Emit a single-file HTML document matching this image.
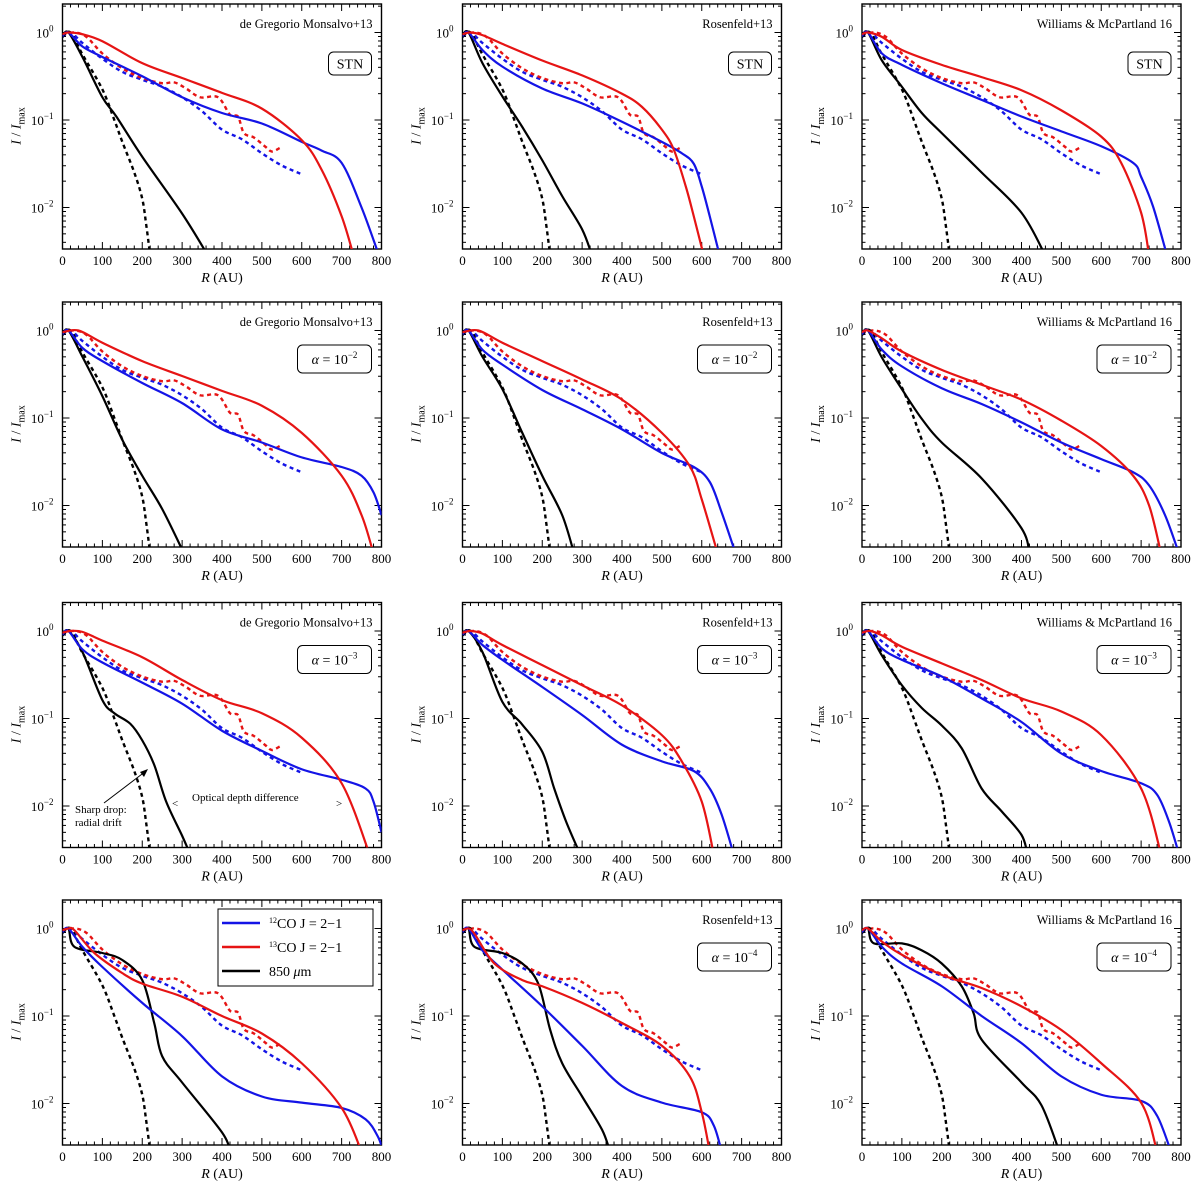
<!DOCTYPE html>
<html>
<head>
<meta charset="utf-8">
<style>
html,body{margin:0;padding:0;background:#fff;}
svg{display:block;font-family:"Liberation Serif",serif;}
</style>
</head>
<body>
<svg id="chart" width="1200" height="1196" viewBox="0 0 1200 1196" xmlns="http://www.w3.org/2000/svg"></svg>
<script>
// ---- shared observed profiles (R in AU, log10 I/Imax) ----
const obsBlueR = [0,20,50,100,150,200,250,300,350,400,450,500,550,600];
const obsBlueL = [-0.05,0,-0.12,-0.3,-0.45,-0.54,-0.62,-0.74,-0.9,-1.11,-1.22,-1.38,-1.52,-1.62];
const obsRedR = [0,30,60,100,150,200,250,280,310,345,390,420,440,455,480,510,525,545];
const obsRedL = [-0.02,0,-0.05,-0.24,-0.41,-0.52,-0.58,-0.57,-0.64,-0.74,-0.74,-0.94,-0.96,-1.15,-1.2,-1.31,-1.36,-1.32];
const obsBlackR = [0,20,50,100,130,150,180,200,210,220];
const obsBlackL = [-0.05,0,-0.25,-0.65,-1.0,-1.25,-1.6,-1.9,-2.2,-2.55];

// ---- axis ticks ----
const xTicks = [0,100,200,300,400,500,600,700,800];
const yTickExps = [0,-1,-2];
const sources = ["de Gregorio Monsalvo+13","Rosenfeld+13","Williams & McPartland 16"];
const models = ["STN","\u03b1 = 10\u207b\u00b2","\u03b1 = 10\u207b\u00b3","\u03b1 = 10\u207b\u2074"];

// ---- model profiles per panel (row, col) ----
const p11_blueR=[0,15,50,100,200,300,400,500,600,650,700,750,790];
const p11_blueL=[-0.04,0,-0.16,-0.28,-0.5,-0.74,-0.92,-1.04,-1.25,-1.35,-1.49,-2.0,-2.5];
const p11_redR=[0,15,50,100,200,300,400,500,600,650,700,730];
const p11_redL=[-0.02,0,-0.02,-0.1,-0.35,-0.52,-0.69,-0.87,-1.23,-1.57,-2.1,-2.55];
const p11_blackR=[0,15,50,100,135,200,300,365];
const p11_blackL=[-0.04,0,-0.28,-0.74,-0.96,-1.42,-2.07,-2.55];

const p12_blueR=[0,15,50,100,200,300,400,500,550,580,600,620,645];
const p12_blueL=[-0.04,0,-0.2,-0.39,-0.64,-0.81,-1.02,-1.25,-1.38,-1.5,-1.76,-2.1,-2.55];
const p12_redR=[0,20,50,100,200,300,400,450,500,530,560,580,605];
const p12_redL=[-0.02,0,-0.03,-0.13,-0.32,-0.49,-0.7,-0.85,-1.11,-1.34,-1.76,-2.1,-2.55];
const p12_blackR=[0,15,50,100,150,200,250,300,325];
const p12_blackL=[-0.04,0,-0.35,-0.73,-1.08,-1.46,-1.87,-2.25,-2.55];

const p13_blueR=[0,15,50,100,200,300,400,500,600,680,700,730,765];
const p13_blueL=[-0.04,0,-0.24,-0.37,-0.58,-0.77,-0.96,-1.13,-1.3,-1.49,-1.65,-1.99,-2.55];
const p13_redR=[0,15,50,100,200,300,400,500,600,650,700,720];
const p13_redL=[-0.02,0,-0.05,-0.2,-0.37,-0.51,-0.66,-0.89,-1.19,-1.49,-2.06,-2.55];
const p13_blackR=[0,15,50,100,150,200,300,400,460];
const p13_blackL=[-0.04,0,-0.32,-0.62,-0.92,-1.15,-1.6,-2.06,-2.55];

const p21_blueR=[0,15,50,100,200,300,400,500,600,700,750,780,800];
const p21_blueL=[-0.04,0,-0.2,-0.35,-0.6,-0.83,-1.13,-1.28,-1.45,-1.56,-1.66,-1.85,-2.11];
const p21_redR=[0,40,100,200,300,400,500,600,700,750,780];
const p21_redL=[-0.02,0,-0.14,-0.35,-0.52,-0.69,-0.86,-1.17,-1.66,-2.11,-2.55];
const p21_blackR=[0,15,50,100,150,200,250,305];
const p21_blackL=[-0.04,0,-0.3,-0.75,-1.25,-1.66,-2.04,-2.55];

const p22_blueR=[0,15,50,100,200,300,400,500,580,620,650,685];
const p22_blueL=[-0.04,0,-0.22,-0.39,-0.68,-0.9,-1.13,-1.4,-1.56,-1.73,-2.08,-2.55];
const p22_redR=[0,40,100,200,300,400,500,570,600,640];
const p22_redL=[-0.02,0,-0.14,-0.35,-0.56,-0.79,-1.17,-1.55,-1.93,-2.55];
const p22_blackR=[0,15,50,100,150,200,250,280];
const p22_blackL=[-0.04,0,-0.3,-0.67,-1.17,-1.66,-2.11,-2.55];

const p23_blueR=[0,15,50,100,200,300,400,500,600,680,720,760,795];
const p23_blueL=[-0.04,0,-0.22,-0.41,-0.66,-0.84,-1.05,-1.28,-1.47,-1.62,-1.77,-2.11,-2.55];
const p23_redR=[0,15,50,100,200,300,400,500,600,680,720,750];
const p23_redL=[-0.02,0,-0.09,-0.24,-0.45,-0.62,-0.79,-1.03,-1.32,-1.66,-2.0,-2.55];
const p23_blackR=[0,15,50,100,150,200,300,400,420];
const p23_blackL=[-0.04,0,-0.31,-0.67,-1.01,-1.28,-1.69,-2.26,-2.55];

const p31_blueR=[0,15,50,100,200,300,400,500,600,700,760,780,800];
const p31_blueL=[-0.04,0,-0.21,-0.36,-0.59,-0.83,-1.14,-1.37,-1.58,-1.7,-1.8,-1.95,-2.3];
const p31_redR=[0,20,50,100,200,300,400,500,600,700,770];
const p31_redL=[-0.02,0,-0.01,-0.11,-0.3,-0.56,-0.79,-0.94,-1.22,-1.74,-2.55];
const p31_blackR=[0,15,50,100,130,170,200,230,260,300,320];
const p31_blackL=[-0.04,0,-0.24,-0.79,-0.94,-1.06,-1.25,-1.53,-1.95,-2.34,-2.55];

const p32_blueR=[0,15,50,100,200,300,400,500,580,620,650,680];
const p32_blueL=[-0.04,0,-0.16,-0.33,-0.64,-0.96,-1.3,-1.49,-1.6,-1.8,-2.1,-2.55];
const p32_redR=[0,20,50,100,200,300,400,500,550,600,630];
const p32_redL=[-0.02,0,-0.03,-0.16,-0.39,-0.62,-0.85,-1.19,-1.49,-1.95,-2.55];
const p32_blackR=[0,15,50,100,150,200,230,260,295];
const p32_blackL=[-0.04,0,-0.24,-0.81,-1.07,-1.38,-1.8,-2.18,-2.55];

const p33_blueR=[0,15,50,100,200,300,400,500,600,700,740,770,795];
const p33_blueL=[-0.04,0,-0.2,-0.33,-0.52,-0.77,-1.04,-1.4,-1.6,-1.74,-1.87,-2.18,-2.55];
const p33_redR=[0,20,50,100,200,300,400,500,600,700,750];
const p33_redL=[-0.02,0,-0.05,-0.18,-0.37,-0.56,-0.77,-0.92,-1.19,-1.8,-2.55];
const p33_blackR=[0,15,50,100,150,200,250,300,350,400,415];
const p33_blackL=[-0.04,0,-0.28,-0.62,-0.88,-1.08,-1.34,-1.8,-2.06,-2.33,-2.55];

const p41_blueR=[0,15,50,100,200,300,400,500,600,700,760,790,805];
const p41_blueL=[-0.04,0,-0.21,-0.44,-0.85,-1.23,-1.69,-1.92,-1.99,-2.05,-2.18,-2.37,-2.55];
const p41_redR=[0,15,30,80,150,200,300,400,500,600,700,750];
const p41_redL=[-0.02,0,-0.02,-0.28,-0.51,-0.63,-0.78,-1.0,-1.2,-1.54,-2.05,-2.55];
const p41_blackR=[0,15,30,100,150,200,230,250,300,400,420];
const p41_blackL=[-0.04,0,-0.21,-0.28,-0.36,-0.59,-1.08,-1.46,-1.76,-2.33,-2.55];

const p42_blueR=[0,15,50,100,200,300,400,500,600,630,650];
const p42_blueL=[-0.04,0,-0.25,-0.47,-0.89,-1.34,-1.8,-1.99,-2.1,-2.25,-2.55];
const p42_redR=[0,15,30,80,150,200,300,400,500,570,600,620];
const p42_redL=[-0.02,0,-0.06,-0.4,-0.59,-0.66,-0.85,-1.08,-1.34,-1.69,-2.1,-2.55];
const p42_blackR=[0,15,30,100,150,190,220,250,300,350,370];
const p42_blackL=[-0.04,0,-0.21,-0.28,-0.4,-0.63,-1.16,-1.54,-1.92,-2.3,-2.55];

const p43_blueR=[0,15,50,100,200,300,400,500,600,700,740,775];
const p43_blueL=[-0.04,0,-0.21,-0.4,-0.66,-1.0,-1.31,-1.69,-1.9,-1.97,-2.14,-2.55];
const p43_redR=[0,15,50,100,200,300,400,500,600,700,740];
const p43_redL=[-0.02,0,-0.15,-0.3,-0.53,-0.68,-0.89,-1.16,-1.54,-1.99,-2.55];
const p43_blackR=[0,15,30,100,150,200,250,280,300,400,450,495];
const p43_blackL=[-0.04,0,-0.17,-0.17,-0.25,-0.4,-0.66,-0.97,-1.27,-1.76,-2.02,-2.55];

const panels = [
 [[p11_blueR,p11_blueL,p11_redR,p11_redL,p11_blackR,p11_blackL],[p12_blueR,p12_blueL,p12_redR,p12_redL,p12_blackR,p12_blackL],[p13_blueR,p13_blueL,p13_redR,p13_redL,p13_blackR,p13_blackL]],
 [[p21_blueR,p21_blueL,p21_redR,p21_redL,p21_blackR,p21_blackL],[p22_blueR,p22_blueL,p22_redR,p22_redL,p22_blackR,p22_blackL],[p23_blueR,p23_blueL,p23_redR,p23_redL,p23_blackR,p23_blackL]],
 [[p31_blueR,p31_blueL,p31_redR,p31_redL,p31_blackR,p31_blackL],[p32_blueR,p32_blueL,p32_redR,p32_redL,p32_blackR,p32_blackL],[p33_blueR,p33_blueL,p33_redR,p33_redL,p33_blackR,p33_blackL]],
 [[p41_blueR,p41_blueL,p41_redR,p41_redL,p41_blackR,p41_blackL],[p42_blueR,p42_blueL,p42_redR,p42_redL,p42_blackR,p42_blackL],[p43_blueR,p43_blueL,p43_redR,p43_redL,p43_blackR,p43_blackL]]
];

const NS = "http://www.w3.org/2000/svg";
const svg = document.getElementById("chart");
const BLUE = "#1414e6", RED = "#e61414", BLACK = "#000";
const colOff = [0, 400, 799.5];
const rowOff = [0, 298, 598.5, 896];
const PW = 319, DEC = 87.5, Y0 = 32.5, FT = 4, FB = 249;
const XMAX = 800;

function mk(tag, attrs, parent){
  const e = document.createElementNS(NS, tag);
  for (const k in attrs) e.setAttribute(k, attrs[k]);
  (parent||svg).appendChild(e);
  return e;
}
function smoothPath(pts){
  if (pts.length < 2) return "";
  let d = "M" + pts[0][0].toFixed(2) + "," + pts[0][1].toFixed(2);
  for (let i = 0; i < pts.length - 1; i++){
    const p0 = pts[i-1] || pts[i], p1 = pts[i], p2 = pts[i+1], p3 = pts[i+2] || p2;
    const c1x = p1[0] + (p2[0]-p0[0])/6, c1y = p1[1] + (p2[1]-p0[1])/6;
    const c2x = p2[0] - (p3[0]-p1[0])/6, c2y = p2[1] - (p3[1]-p1[1])/6;
    d += " C" + c1x.toFixed(2)+","+c1y.toFixed(2)+" "+c2x.toFixed(2)+","+c2y.toFixed(2)+" "+p2[0].toFixed(2)+","+p2[1].toFixed(2);
  }
  return d;
}

for (let r = 0; r < 4; r++){
  for (let c = 0; c < 3; c++){
    const L = 62.5 + colOff[c], T = rowOff[r];
    const xs = v => L + v / XMAX * PW;
    const ys = lg => T + Y0 - lg * DEC;
    const g = mk("g", {});
    
    
    const cid = "clip" + r + c;
    const cp = mk("clipPath", {id: cid}, g);
    mk("rect", {x: L, y: T+FT, width: PW, height: FB-FT}, cp);

    // ticks
    const tk = mk("g", {stroke: "#000", "stroke-width": 1}, g);
    
    
    for (let v = 0; v <= 800; v += 20){
      const x = xs(v), len = (v % 100 === 0) ? 7 : 3.5;
      mk("line", {x1: x, x2: x, y1: T+FB, y2: T+FB-len}, tk);
      mk("line", {x1: x, x2: x, y1: T+FT, y2: T+FT+len}, tk);
    }
    for (let e = -3; e <= 0; e++){
      for (let m = 1; m <= 9; m++){
        const lg = e + Math.log10(m);
        const y = ys(lg);
        if (y < T+FT || y > T+FB) continue;
        const len = m === 1 ? 7 : 3.5;
        mk("line", {x1: L, x2: L+len, y1: y, y2: y}, tk);
        mk("line", {x1: L+PW, x2: L+PW-len, y1: y, y2: y}, tk);
      }
    }
    // frame
    const fr = mk("rect", {x: L, y: T+FT, width: PW, height: FB-FT, fill: "none", stroke: "#000", "stroke-width": 1.4}, g);
    
    

    // x tick labels
    xTicks.forEach(v => {
      const t = mk("text", {x: xs(v), y: T+FB+16, "font-size": 13, "text-anchor": "middle"}, g);
      
      
      t.textContent = v;
    });
    const xl = mk("text", {x: L+PW/2, y: T+FB+33, "font-size": 14, "text-anchor": "middle"}, g);
    
    
    xl.innerHTML = '<tspan font-style="italic">R</tspan> (AU)';
    // y tick labels
    yTickExps.forEach(e => {
      const t = mk("text", {x: L-9, y: ys(e)+5, "font-size": 13, "text-anchor": "end"}, g);
      
      
      t.innerHTML = '10<tspan dy="-6" font-size="9">' + (e===0 ? "0" : "\u2212"+(-e)) + '</tspan>';
    });
    const yl = mk("text", {x: 0, y: 0, "font-size": 14, "text-anchor": "middle", transform: "translate(" + (L-42) + "," + (T+126) + ") rotate(-90)"}, g);
    
    
    yl.innerHTML = '<tspan font-style="italic">I</tspan> / <tspan font-style="italic">I</tspan><tspan dy="4" font-size="10">max</tspan>';

    // series
    const D = panels[r][c];
    const series = [
      [obsBlueR, obsBlueL, BLUE, true, 'observed-12co'],
      [obsRedR, obsRedL, RED, true, 'observed-13co'],
      [obsBlackR, obsBlackL, BLACK, true, 'observed-850um'],
      [D[4], D[5], BLACK, false, 'model-850um-line'],
      [D[0], D[1], BLUE, false, 'model-12co-line'],
      [D[2], D[3], RED, false, 'model-13co-line']
    ];
    const sg = mk("g", {"clip-path": "url(#" + cid + ")"}, g);
    series.forEach(s => {
      const pts = s[0].map((v,i) => [xs(v), ys(s[1][i])]);
      const p = mk("path", {d: smoothPath(pts), fill: "none", stroke: s[2], "stroke-width": s[3] ? 2.4 : 2.2, "stroke-dasharray": s[3] ? "4,3.5" : "none", "stroke-linejoin": "round"}, sg);
      
      
    });

    // source label
    if (!(r === 3 && c === 0)){
      const st = mk("text", {x: L+PW-9, y: T+28, "font-size": 12.5, "text-anchor": "end"}, g);
      
      
      st.textContent = sources[c];
      // model box
      const bw = r === 0 ? 43 : 74;
      const bx = L+PW-10-bw, by = T + (r === 0 ? 52 : 47);
      const bh = r === 0 ? 23 : 28;
      const br = mk("rect", {x: bx, y: by, width: bw, height: bh, rx: 5, fill: "#fff", stroke: "#000", "stroke-width": 1}, g);
      
      
      const mt = mk("text", {x: bx+bw/2, y: by+bh/2+5, "font-size": 14, "text-anchor": "middle"}, g);
      
      
      if (r === 0) mt.textContent = "STN";
      else mt.innerHTML = '<tspan font-style="italic">\u03b1</tspan> = 10<tspan dy="-6" font-size="9">\u2212' + (r+1) + '</tspan>';
    }
  }
}

// legend (row 4, col 1)
(function(){
  const lg = mk("g", {});
  
  
  mk("rect", {x: 218, y: 909, width: 155, height: 77, fill: "#fff", stroke: "#000", "stroke-width": 1}, lg);
  const entries = [[BLUE, '<tspan dy="-5" font-size="8">12</tspan><tspan dy="5">CO J = 2\u22121</tspan>', 'legend-entry-12co'],
                   [RED, '<tspan dy="-5" font-size="8">13</tspan><tspan dy="5">CO J = 2\u22121</tspan>', 'legend-entry-13co'],
                   [BLACK, '850 <tspan font-style="italic">\u03bc</tspan>m', 'legend-entry-850um']];
  entries.forEach((e,i) => {
    const y = 923 + i*24;
    const eg = mk("g", {}, lg);
    
    
    mk("line", {x1: 222, x2: 260, y1: y, y2: y, stroke: e[0], "stroke-width": 2.4}, eg);
    const t = mk("text", {x: 269, y: y+5, "font-size": 14}, eg);
    t.innerHTML = e[1];
  });
})();

// annotations (row 3, col 1)
(function(){
  const ag = mk("g", {"font-size": 11});
  
  
  const t1 = mk("text", {x: 75, y: 813}, ag); t1.textContent = "Sharp drop:";
  const t2 = mk("text", {x: 75, y: 826}, ag); t2.textContent = "radial drift";
  mk("line", {x1: 104, y1: 803, x2: 146, y2: 771, stroke: "#000", "stroke-width": 1}, ag);
  mk("path", {d: "M148,769 L140,772 L144,777 Z", fill: "#000"}, ag);
  const t3 = mk("text", {x: 192, y: 801}, ag); t3.textContent = "Optical depth difference";
  const t4 = mk("text", {x: 172, y: 807}, ag); t4.textContent = "<";
  const t5 = mk("text", {x: 336, y: 807}, ag); t5.textContent = ">";
})();
</script>
</body>
</html>
